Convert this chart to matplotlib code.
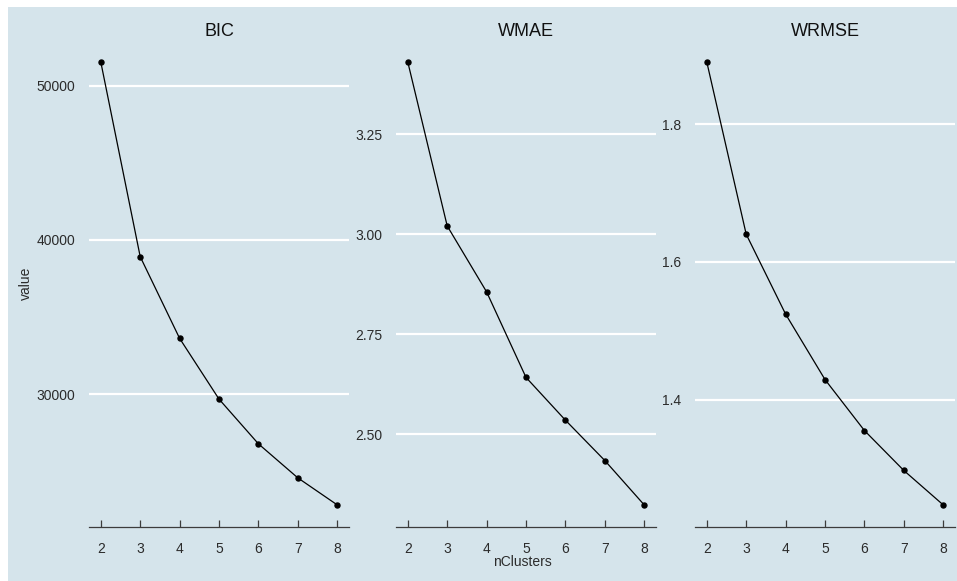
import numpy as np
import matplotlib
matplotlib.use('Agg')
import matplotlib.pyplot as plt
from matplotlib.patches import Rectangle

plt.rcParams['font.family'] = ['Liberation Sans', 'DejaVu Sans']

#number of clusters tried, and the score for each one
nclusters = [2, 3, 4, 5, 6, 7, 8]
bic = [51517, 38918, 33629, 29695, 26799, 24595, 22845]
wmae = [3.431, 3.021, 2.856, 2.642, 2.535, 2.434, 2.323]
wrmse = [1.890, 1.640, 1.524, 1.429, 1.355, 1.297, 1.247]

panel_names = ['BIC', 'WMAE', 'WRMSE']
panel_values = [bic, wmae, wrmse]
panel_ticks = [[30000, 40000, 50000], [2.50, 2.75, 3.00, 3.25], [1.4, 1.6, 1.8]]
panel_labels = [['30000', '40000', '50000'], ['2.50', '2.75', '3.00', '3.25'], ['1.4', '1.6', '1.8']]

bg = '#d5e4eb'
textcol = '#2b2b2b'

W, H = 957, 581
fig = plt.figure(figsize=(W / 100, H / 100), dpi=100)
fig.patch.set_facecolor('white')
#light blue background, leaving a thin white strip on the left and top
fig.patches.append(Rectangle((8 / W, 0), 1 - 8 / W, 1 - 7 / H, transform=fig.transFigure,
                             facecolor=bg, edgecolor='none', zorder=-10))

lefts = [89, 396, 695]
width = 260
top, bottom = 40, 527

def add_panel(left, name, values, ticks, labels):
    #one facet: free y scale, shared x
    ax = fig.add_axes([left / W, (H - bottom) / H, width / W, (bottom - top) / H])
    ax.set_facecolor(bg)
    vmin, vmax = min(values), max(values)
    pad = (vmax - vmin) * 0.05
    ax.set_ylim(vmin - pad, vmax + pad)
    ax.set_xlim(1.7, 8.3)
    for t in ticks:
        ax.axhline(t, color='white', linewidth=1.6, zorder=1)
    ax.plot(nclusters, values, color='black', linewidth=0.9, zorder=3)
    ax.plot(nclusters, values, 'o', color='black', markersize=3.6, zorder=4)
    for s in ['top', 'right', 'left']:
        ax.spines[s].set_visible(False)
    ax.spines['bottom'].set_color('#3c3c3c')
    ax.spines['bottom'].set_linewidth(0.9)
    ax.set_xticks(nclusters)
    ax.set_xticklabels([str(n) for n in nclusters])
    ax.set_yticks(ticks)
    ax.set_yticklabels(labels)
    ax.tick_params(axis='x', direction='in', length=5, width=0.9, color='#3c3c3c',
                   pad=11, labelsize=10, labelcolor=textcol)
    ax.tick_params(axis='y', length=0, pad=10, labelsize=10, labelcolor=textcol)
    ax.set_title(name, fontsize=13, color='#111111', pad=0.6)
    return ax

for i in range(3):
    add_panel(lefts[i], panel_names[i], panel_values[i], panel_ticks[i], panel_labels[i])

fig.text(26 / W, 1 - 283 / H, 'value', rotation=90, ha='center', va='center',
         fontsize=10, color=textcol)
fig.text(522 / W, 1 - 562 / H, 'nClusters', ha='center', va='center',
         fontsize=10, color=textcol)

fig.savefig('out.png', dpi=100, facecolor=fig.get_facecolor())
